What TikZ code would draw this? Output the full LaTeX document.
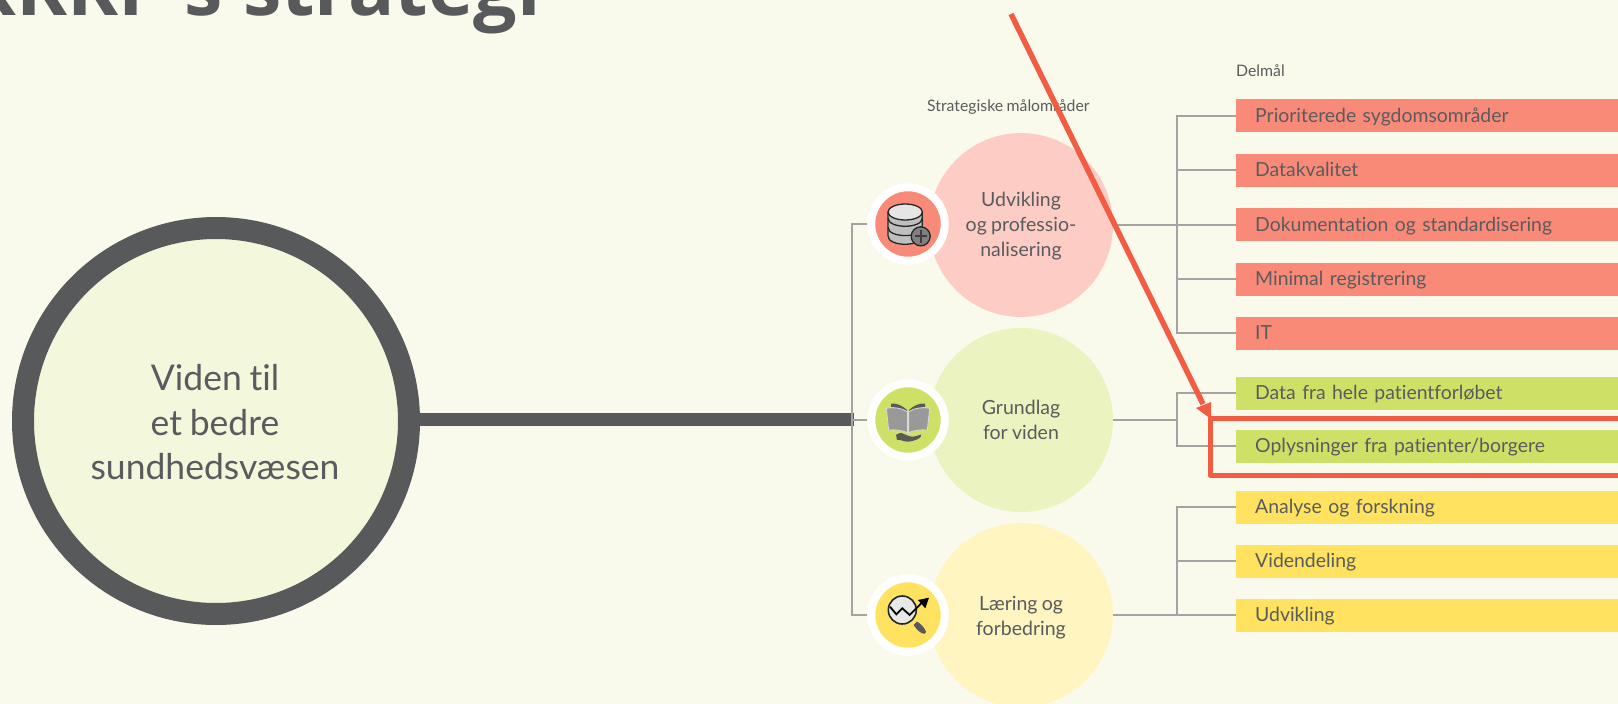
\documentclass[tikz,border=0pt]{standalone}
\usepackage{fontspec}
\setmainfont{Lato}[Ligatures=NoCommon,WordSpace=0.85]
\newfontfamily\titlefont{Open Sans}
\definecolor{bgc}{HTML}{F9FAEC}
\definecolor{ink}{HTML}{5A5B5E}
\definecolor{ringc}{HTML}{58595B}
\definecolor{centerc}{HTML}{F3F7DC}
\definecolor{linec}{HTML}{A3A3A3}
\definecolor{redbar}{HTML}{FA8A78}
\definecolor{greenbar}{HTML}{CFE067}
\definecolor{yellowbar}{HTML}{FFE260}
\definecolor{pinkc}{HTML}{FDCDC5}
\definecolor{lgreenc}{HTML}{EBF3C0}
\definecolor{lyellowc}{HTML}{FEF5C1}
\definecolor{alertc}{HTML}{F25C42}
\tikzset{
  x=1pt,y=-1pt,
  bigc/.style={circle,minimum size=184pt,inner sep=0pt},
  bigt/.style={align=center,inner sep=0pt,text=ink,font=\fontsize{19.5}{25}\selectfont},
  iconc/.style={circle,minimum size=73.5pt,inner sep=0pt,line width=8pt,draw=white},
  barn/.style={anchor=west,minimum width=382pt,minimum height=33pt,inner sep=0pt,text width=344pt,text height=16pt,text depth=3pt,align=left,text=ink,font=\fontsize{19.4}{24}\selectfont},
  conn/.style={draw=linec,line width=2pt},
  small/.style={text=ink,font=\fontsize{15.8}{18}\selectfont,inner sep=0pt},
  icoline/.style={draw=black!85,line width=1.3pt,line join=round},
}
\begin{document}
\begin{tikzpicture}
\clip (0,0) rectangle (1618,704);
\fill[bgc] (0,0) rectangle (1618,704);
% title
\node[anchor=base west,inner sep=0pt,text=ringc,font=\titlefont\bfseries\fontsize{77}{77}\selectfont] (title) at (-35,16) {RKKP's strategi};
% centre
\node[circle,minimum size=386pt,inner sep=0pt,line width=22pt,draw=ringc,fill=centerc] (hub) at (216,421) {};
\node[align=center,inner sep=0pt,text=ink,font=\fontsize{35.5}{44.5}\selectfont] (hubt) at (215,422.5) {Viden til\\et bedre\\sundhedsvæsen};
% big circles
\node[bigc,fill=pinkc] (ca) at (1021,225) {};
\node[bigc,fill=lgreenc] (cb) at (1021,420) {};
\node[bigc,fill=lyellowc] (cc) at (1021,615) {};
\node[bigt] (ta) at (1021,226) {Udvikling\\og professio-\\nalisering};
\node[bigt] (tb) at (1021,420) {Grundlag\\for viden};
\node[bigt] (tc) at (1021,617.5) {Læring og\\forbedring};
% icon circles
\node[iconc,fill=redbar] (ia) at (908,224) {};
\node[iconc,fill=greenbar] (ib) at (908,420) {};
\node[iconc,fill=yellowbar] (ic) at (908,615) {};
% labels
\node[small,anchor=west] (lb1) at (927,107) {Strategiske målområder};
\node[small,anchor=west] (lb2) at (1236,71) {Delmål};
% bars
\node[barn,fill=redbar] (a1) at (1236,115.5) {Prioriterede sygdomsområder};
\node[barn,fill=redbar] (a2) at (1236,170) {Datakvalitet};
\node[barn,fill=redbar] (a3) at (1236,224.5) {Dokumentation og standardisering};
\node[barn,fill=redbar] (a4) at (1236,279) {Minimal registrering};
\node[barn,fill=redbar] (a5) at (1236,333) {IT};
\node[barn,fill=greenbar] (b1) at (1236,393) {Data fra hele patientforløbet};
\node[barn,fill=greenbar] (b2) at (1236,446) {Oplysninger fra patienter/borgere};
\node[barn,fill=yellowbar] (c1) at (1236,507) {Analyse og forskning};
\node[barn,fill=yellowbar] (c2) at (1236,561) {Videndeling};
\node[barn,fill=yellowbar] (c3) at (1236,615) {Udvikling};
% connectors
\coordinate (sl) at (852,420);
\coordinate (sr) at (1177,420);
\draw[draw=ringc,line width=13pt] (hub.east |- 0,419.5) -- (854,419.5);
\draw[conn] (ia.west) -- (ia.west -| sl) -- (ic.west -| sl) -- (ic.west);
\draw[conn] (ib.west) -- (sl);
\draw[conn] (a1.west) -- (a1.west -| sr) -- (a5.west -| sr) -- (a5.west);
\draw[conn] (a2.west) -- (a2.west -| sr);
\draw[conn] (ca.east |- a3.west) -- (a3.west);
\draw[conn] (a4.west) -- (a4.west -| sr);
\draw[conn] (b1.west) -- (b1.west -| sr) -- (b2.west -| sr) -- (b2.west);
\draw[conn] (cb.east) -- (sr);
\draw[conn] (c1.west) -- (c1.west -| sr) -- (c3.west -| sr) -- (c3.west);
\draw[conn] (c2.west) -- (c2.west -| sr);
\draw[conn] (cc.east) -- (c3.west);
% database icon
\begin{scope}[shift={(ia.center)}]
 \filldraw[icoline,fill=black!25] (-20,-12) -- (-20,12) .. controls (-20,23) and (14.3,23) .. (14.3,12) -- (14.3,-12) -- cycle;
 \draw[icoline] (-20,-6) .. controls (-20,5) and (14.3,5) .. (14.3,-6);
 \draw[icoline] (-20,3.3) .. controls (-20,14.3) and (14.3,14.3) .. (14.3,3.3);
 \filldraw[icoline,fill=black!10] (-2.8,-12) ellipse[x radius=17.2,y radius=8];
 \filldraw[icoline,fill=black!50] (12.7,12.3) circle[radius=9.5];
 \draw[ringc!70!black,line width=1.8pt] (6.5,12.3) -- (19,12.3) (12.7,6) -- (12.7,18.6);
\end{scope}
% book icon
\begin{scope}[shift={(ib.center)}]
 \fill[ringc] (-17,-16.5) .. controls (-11,-17) and (-5,-14) .. (-1,-10) -- (-1,-7) -- (-3,-7) .. controls (-7,-11) and (-12,-13) .. (-17,-13) -- cycle;
 \fill[ringc] (17,-16.5) .. controls (11,-17) and (5,-14) .. (1,-10) -- (1,-7) -- (3,-7) .. controls (7,-11) and (12,-13) .. (17,-13) -- cycle;
 \filldraw[draw=black!15,line width=.8pt,fill=black!40] (-21.7,-11.7) .. controls (-14,-13) and (-6,-12) .. (-.6,-8.3) -- (-.6,12.7) .. controls (-6,10) and (-13,9.5) .. (-19.3,10) -- cycle;
 \filldraw[draw=black!15,line width=.8pt,fill=black!40] (21.7,-11.7) .. controls (14,-13) and (6,-12) .. (.6,-8.3) -- (.6,12.7) .. controls (6,10) and (13,9.5) .. (19.3,10) -- cycle;
 \fill[ringc] (-12,15) .. controls (-9,12.5) and (-6,12.5) .. (-3,14.5) .. controls (-1,15.5) and (1,16) .. (3,16.5) .. controls (7,17) and (10,15.5) .. (13,14.5) .. controls (14,17) and (10,19.5) .. (6,20.5) .. controls (2,22) and (-3,22) .. (-6,20.5) .. controls (-8,19.5) and (-10,20) .. (-11,20) -- cycle;
\end{scope}
% magnifier icon
\begin{scope}[shift={(ic.center)}]
 \fill[ringc] (5.5,10) -- (9,6.5) .. controls (13,9) and (17,13) .. (18,17) .. controls (18,19) and (15.5,19.5) .. (13.5,18) .. controls (10,16) and (7.5,13) .. (5.5,10) -- cycle;
 \filldraw[icoline,fill=black!9,line width=1.6pt] (-5.7,-5) circle[radius=14];
 \draw[black,line width=1.8pt,line join=miter] (-18,-8.3) -- (-11.7,-.7) -- (-5.7,-6.7) -- (1.7,0) -- (13,-11.5);
 \fill[black] (21,-17.3) -- (10,-15) -- (17.3,-6.7) -- cycle;
\end{scope}
% annotation
\coordinate (from) at (1011,14);
\coordinate (rtl) at (1210,418);
\coordinate (rbl) at (1210,475);
\coordinate (rtr) at (1630,418);
\coordinate (rbr) at (1630,475);
\draw[alertc,line width=5pt,line join=round] (rtr) -- (rtl) -- (rbl) -- (rbr);
\draw[alertc,line width=5.5pt] (from) -- (1203,404);
\fill[alertc] (rtl) ++(1,1) -- (1196,408) -- (1211,402) -- cycle;
\end{tikzpicture}
\end{document}
